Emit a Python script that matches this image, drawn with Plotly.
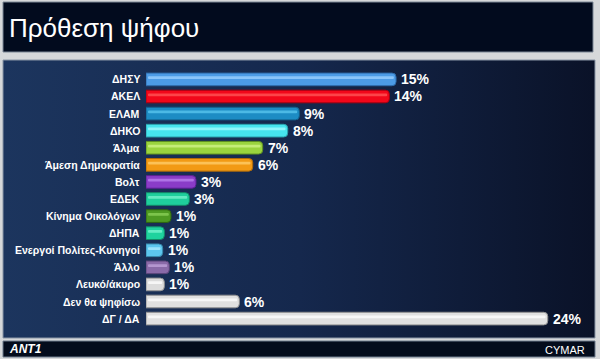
import plotly.graph_objects as go

categories = ["ΔΗΣΥ", "ΑΚΕΛ", "ΕΛΑΜ", "ΔΗΚΟ", "Άλμα", "Άμεση Δημοκρατία", "Βολτ", "ΕΔΕΚ",
              "Κίνημα Οικολόγων", "ΔΗΠΑ", "Ενεργοί Πολίτες-Κυνηγοί", "Άλλο", "Λευκό/άκυρο",
              "Δεν θα ψηφίσω", "ΔΓ / ΔΑ"]
values = [15.0, 14.6, 9.2, 8.5, 7.0, 6.4, 3.0, 2.6, 1.5, 1.1, 1.0, 1.4, 1.1, 5.6, 24.1]
labels = ["15%", "14%", "9%", "8%", "7%", "6%", "3%", "3%", "1%", "1%", "1%", "1%", "1%", "6%", "24%"]
colors = ["#4c9be6", "#f2071a", "#1d8cc4", "#46e4ee", "#9ad43e", "#f29a14", "#8a3cc8", "#1fcf9c",
          "#4e9a22", "#1fd39e", "#5cc6ee", "#8a6aa8", "#dcdcdc", "#e0e0e0", "#e0e0e0"]
highlights = ["#9fd2ff", "#ff5a5a", "#5cc8f0", "#a8fbff", "#d2f58c", "#ffcf6e", "#bb86f0", "#7cf3cf",
              "#8cd25a", "#7cf6d2", "#b0ecff", "#c2a6dc", "#ffffff", "#ffffff", "#ffffff"]
edges = ["#2e6aa8", "#a80010", "#135f8a", "#2aa0aa", "#5f9020", "#b06a08", "#5a2090", "#138a68",
         "#2e6410", "#138c68", "#3888aa", "#5a4478", "#909090", "#909090", "#909090"]

W, H = 600, 359
px_per_unit = 16.67
x0_px = 146
row_top, row_bot = 69.4, 328.6

fig = go.Figure()

# panel background with gradient (on its own pixel-space axes)
fig.add_trace(go.Scatter(
    x=[3, 595, 595, 3, 3], y=[H - 60, H - 60, H - 338, H - 338, H - 60],
    mode="lines", line=dict(color="#8a96a6", width=1), fill="toself",
    fillgradient=dict(type="horizontal", colorscale=[[0, "#1c355e"], [0.5, "#15284d"], [1, "#0a1228"]]),
    hoverinfo="skip", showlegend=False, xaxis="x", yaxis="y"))

# bars
fig.add_trace(go.Bar(
    x=values, y=categories, orientation="h", marker=dict(color=colors, line=dict(color=edges, width=1),
                                                          cornerradius=4),
    width=0.74, xaxis="x2", yaxis="y2", showlegend=False, hoverinfo="skip"))
fig.add_trace(go.Bar(
    x=[v - 0.25 for v in values], base=[0.12] * len(values), y=categories, orientation="h",
    marker=dict(color=highlights, line=dict(width=0), cornerradius=2, opacity=0.75),
    width=0.16, offset=-0.18, xaxis="x2", yaxis="y2", showlegend=False, hoverinfo="skip"))

for c, v, l in zip(categories, values, labels):
    fig.add_annotation(x=v, y=c, xref="x2", yref="y2", text=l, showarrow=False,
                       xanchor="left", xshift=3, yshift=0,
                       font=dict(family="Liberation Sans", size=14, color="white", weight="bold"))
    fig.add_annotation(x=0, y=c, xref="x2", yref="y2", text=c, showarrow=False,
                       xanchor="right", xshift=-4,
                       font=dict(family="Liberation Sans", size=10.5, color="white", weight="bold"))

shapes = [
    dict(type="rect", xref="paper", yref="paper", x0=3 / W, x1=593 / W, y0=1 - 52 / H, y1=1 - 2 / H,
         fillcolor="#020b1e", line=dict(color="#7c8896", width=1), layer="below"),
    dict(type="rect", xref="paper", yref="paper", x0=3 / W, x1=595 / W, y0=1 - 357 / H, y1=1 - 341 / H,
         fillcolor="#040c1c", line=dict(color="#6c7a8c", width=1), layer="below"),
]

fig.add_annotation(x=7 / W, y=1 - 28 / H, xref="paper", yref="paper", text="Πρόθεση ψήφου",
                   showarrow=False, xanchor="left", yanchor="middle",
                   font=dict(family="Liberation Sans", size=26, color="white"))
fig.add_annotation(x=7 / W, y=1 - 349 / H, xref="paper", yref="paper", text="<i><b>ANT1</b></i>",
                   showarrow=False, xanchor="left", yanchor="middle",
                   font=dict(family="Liberation Sans", size=12, color="white"))
fig.add_annotation(x=587 / W, y=1 - 350 / H, xref="paper", yref="paper", text="CYMAR",
                   showarrow=False, xanchor="right", yanchor="middle",
                   font=dict(family="Liberation Sans", size=11, color="white"))

fig.update_layout(
    width=W, height=H, margin=dict(l=0, r=0, t=0, b=0),
    paper_bgcolor="#d6d8da", plot_bgcolor="rgba(0,0,0,0)",
    shapes=shapes, barmode="overlay",
    xaxis=dict(domain=[0, 1], range=[0, W], visible=False, fixedrange=True),
    yaxis=dict(domain=[0, 1], range=[0, H], visible=False, fixedrange=True),
    xaxis2=dict(domain=[x0_px / W, 1], range=[0, (W - x0_px) / px_per_unit], visible=False, anchor="y2"),
    yaxis2=dict(domain=[1 - row_bot / H, 1 - row_top / H], autorange="reversed", visible=False,
                anchor="x2", type="category"),
)

fig.write_html("out.html")
